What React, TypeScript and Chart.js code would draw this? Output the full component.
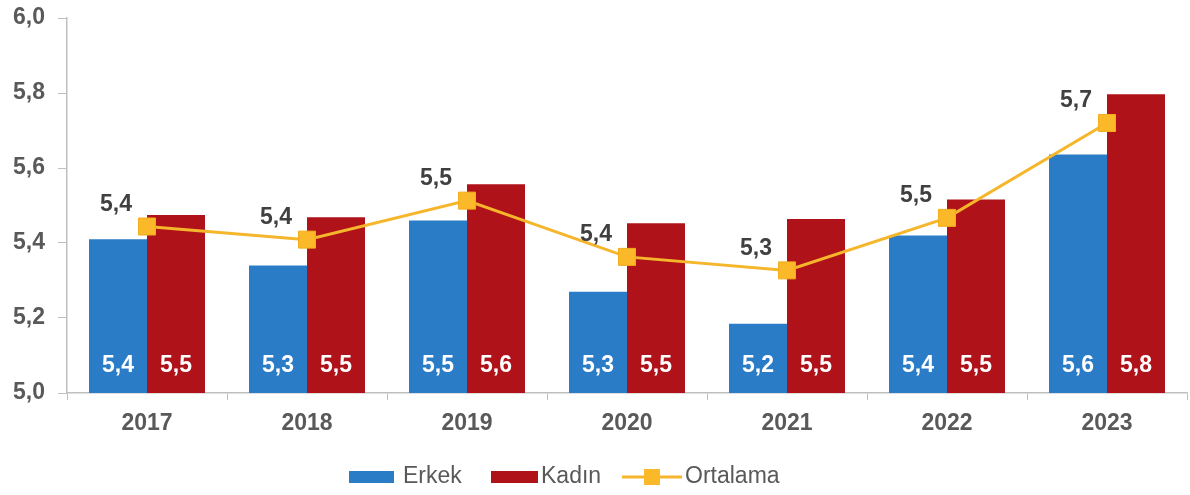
import React, { useEffect, useRef } from 'react';
import { Chart, registerables } from 'chart.js';

Chart.register(...registerables);

const years = ['2017', '2018', '2019', '2020', '2021', '2022', '2023'];
const erkek = [5.41, 5.34, 5.46, 5.27, 5.185, 5.42, 5.636];
const kadin = [5.475, 5.469, 5.557, 5.453, 5.464, 5.516, 5.797];
const ortalama = [5.444, 5.409, 5.513, 5.363, 5.327, 5.467, 5.72];

const seriesNames = ['Erkek', 'Kadın', 'Ortalama'];
const BLUE = '#2B7CC6';
const RED = '#AF1218';
const GOLD = '#F5B62C';
const GOLD_MARK = '#FBB829';
const AXIS = '#BFBFBF';
const TICK_TEXT = '#595959';
const FONT = '"Liberation Sans", Arial, sans-serif';

const fmt = (v: number) => v.toFixed(1).replace('.', ',');

const labelsPlugin = {
  id: 'valueLabels',
  afterDatasetsDraw(chart: any) {
    const ctx = chart.ctx;
    const area = chart.chartArea;
    ctx.save();
    ctx.textAlign = 'center';
    ctx.textBaseline = 'middle';
    chart.data.datasets.forEach((ds: any, i: number) => {
      const meta = chart.getDatasetMeta(i);
      meta.data.forEach((el: any, j: number) => {
        const v = ds.data[j] as number;
        if (ds.type === 'line') {
          ctx.font = `bold 23px ${FONT}`;
          ctx.fillStyle = '#404040';
          ctx.fillText(fmt(v), el.x - 31, el.y - 22);
        } else {
          ctx.font = `bold 23px ${FONT}`;
          ctx.fillStyle = '#FFFFFF';
          ctx.fillText(fmt(v), el.x, area.bottom - 27);
        }
      });
    });
    ctx.restore();
  },
  afterDraw(chart: any) {
    const ctx = chart.ctx;
    const cy = 477;
    ctx.save();
    ctx.font = `23px ${FONT}`;
    ctx.textBaseline = 'middle';
    ctx.textAlign = 'left';
    // Erkek
    ctx.fillStyle = BLUE;
    ctx.fillRect(349, cy - 6, 45, 12);
    ctx.fillStyle = TICK_TEXT;
    ctx.fillText(seriesNames[0], 403, cy);
    // Kadın
    ctx.fillStyle = RED;
    ctx.fillRect(491, cy - 6, 47, 12);
    ctx.fillStyle = TICK_TEXT;
    ctx.fillText(seriesNames[1], 541, cy);
    // Ortalama
    ctx.strokeStyle = GOLD;
    ctx.lineWidth = 3;
    ctx.beginPath();
    ctx.moveTo(622, cy);
    ctx.lineTo(682, cy);
    ctx.stroke();
    ctx.fillStyle = GOLD_MARK;
    ctx.fillRect(652 - 8, cy - 8, 16, 16);
    ctx.fillStyle = TICK_TEXT;
    ctx.fillText(seriesNames[2], 685, cy);
    ctx.restore();
  },
};

const noAutoPadding = (s: any) => {
  s.paddingLeft = 0;
  s.paddingRight = 0;
  s.paddingTop = 0;
  s.paddingBottom = 0;
};

export default function App() {
  const ref = useRef<HTMLCanvasElement | null>(null);

  useEffect(() => {
    if (!ref.current) return;
    const chart = new Chart(ref.current, {
      type: 'bar',
      data: {
        labels: years,
        datasets: [
          {
            type: 'line',
            label: seriesNames[2],
            data: ortalama,
            borderColor: GOLD,
            borderWidth: 3,
            backgroundColor: GOLD_MARK,
            pointStyle: 'rect',
            pointRadius: 12,
            pointBackgroundColor: GOLD_MARK,
            pointBorderColor: '#F2AE1E',
            pointBorderWidth: 1,
            tension: 0,
            order: 0,
          } as any,
          {
            type: 'bar',
            label: seriesNames[0],
            data: erkek,
            backgroundColor: BLUE,
            borderWidth: 0,
            categoryPercentage: 0.725,
            barPercentage: 1,
            order: 1,
          },
          {
            type: 'bar',
            label: seriesNames[1],
            data: kadin,
            backgroundColor: RED,
            borderWidth: 0,
            categoryPercentage: 0.725,
            barPercentage: 1,
            order: 1,
          },
        ],
      },
      options: {
        responsive: false,
        animation: false,
        layout: { autoPadding: false, padding: { top: 18, right: 3, bottom: 0, left: 0 } },
        plugins: {
          legend: { display: false },
          tooltip: { enabled: false },
        },
        scales: {
          x: {
            offset: true,
            grid: {
              display: true,
              offset: true,
              drawOnChartArea: false,
              drawTicks: true,
              tickLength: 7,
              color: AXIS,
            },
            border: { display: true, color: AXIS, width: 1.5 },
            ticks: {
              color: TICK_TEXT,
              font: { family: FONT, size: 23, weight: 'bold' },
              padding: 10,
            },
            afterFit: (s: any) => {
              s.height = 102;
              noAutoPadding(s);
            },
          },
          y: {
            min: 5,
            max: 6,
            grid: {
              display: true,
              drawOnChartArea: false,
              drawTicks: true,
              tickLength: 9,
              color: AXIS,
            },
            border: { display: true, color: AXIS, width: 1.5 },
            ticks: {
              stepSize: 0.2,
              color: TICK_TEXT,
              font: { family: FONT, size: 23, weight: 'bold' },
              padding: 13,
              callback: (v: any) => fmt(Number(v)),
            },
            afterFit: (s: any) => {
              s.width = 67;
              noAutoPadding(s);
            },
          },
        },
      },
      plugins: [labelsPlugin],
    });
    return () => chart.destroy();
  }, []);

  return (
    <div style={{ position: 'fixed', left: 0, top: 0, width: 1190, height: 495, background: '#fff' }}>
      <canvas ref={ref} width={1190} height={495} />
    </div>
  );
}
